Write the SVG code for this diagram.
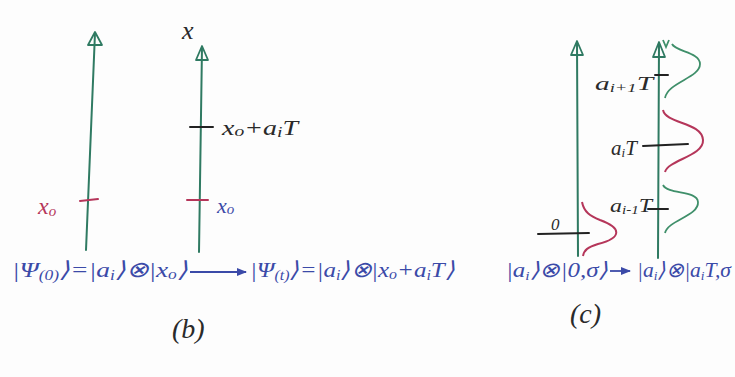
<svg xmlns="http://www.w3.org/2000/svg" width="735" height="377" viewBox="0 0 735 377">
<style>
.axis{stroke:#2f7a62;stroke-width:2;fill:none;stroke-linecap:round}
.ah{stroke:#2f7a62;stroke-width:1.8;fill:none;stroke-linejoin:round}
.tk{stroke:#222;stroke-width:2;stroke-linecap:round}
.tkr{stroke:#b5365a;stroke-width:2;stroke-linecap:round}
.gr{stroke:#3f8f6a;stroke-width:1.8;fill:none}
.rd{stroke:#b5365a;stroke-width:2;fill:none}
.t{font-family:"Liberation Serif",serif;font-style:italic}
.blue{fill:#3b4aa8}
.red{fill:#b5365a}
.blk{fill:#2a2a2a}
.conn{stroke:#3b4aa8;stroke-width:1.8;fill:none}
</style>
<defs>
<marker id="arr" markerWidth="10" markerHeight="8" refX="9" refY="4" orient="auto" markerUnits="userSpaceOnUse">
<path d="M0,0 L10,4 L0,8 Z" fill="#3b4aa8"/>
</marker>
</defs>
<rect width="735" height="377" fill="#fdfdfd"/>

<g id="axis-b-left">
<path class="axis" d="M86,250 L95,33"/>
<path class="ah" d="M88,45 L95,32 L102,45 Z"/>
<line class="tkr" x1="80" y1="201" x2="98" y2="199"/>
<text class="t red" x="38" y="214" font-size="24">x<tspan font-size="15" dy="2">o</tspan></text>
</g>

<g id="axis-b-right">
<path class="axis" d="M199,252 L202,47"/>
<path class="ah" d="M196,60 L202,46 L208,60 Z"/>
<text class="t blk" x="182" y="39" font-size="26">x</text>
<line class="tk" x1="190" y1="127" x2="213" y2="127"/>
<text class="t blk" x="222" y="135" font-size="20" textLength="76" lengthAdjust="spacingAndGlyphs">x<tspan font-size="14" dy="1">o</tspan><tspan dy="-1">+a</tspan><tspan font-size="14" dy="2">i</tspan><tspan dy="-2">T</tspan></text>
<line class="tkr" x1="187" y1="200" x2="208" y2="200"/>
<text class="t blue" x="217" y="213" font-size="22">x<tspan font-size="15" dy="1">o</tspan></text>
</g>

<g id="formula-b">
<text class="t blue" x="12" y="277" font-size="22" textLength="176" lengthAdjust="spacingAndGlyphs">|Ψ<tspan font-size="14" dy="3">(0)</tspan><tspan dy="-3">⟩=|a</tspan><tspan font-size="14" dy="3">i</tspan><tspan dy="-3">⟩⊗|x</tspan><tspan font-size="14" dy="2">o</tspan><tspan dy="-2">⟩</tspan></text>
<text class="t blue" x="250" y="277" font-size="22" textLength="205" lengthAdjust="spacingAndGlyphs">|Ψ<tspan font-size="14" dy="3">(t)</tspan><tspan dy="-3">⟩=|a</tspan><tspan font-size="14" dy="3">i</tspan><tspan dy="-3">⟩⊗|x</tspan><tspan font-size="14" dy="2">o</tspan><tspan dy="-2">+a</tspan><tspan font-size="14" dy="3">i</tspan><tspan dy="-3">T⟩</tspan></text>
<text class="t blk" x="172" y="338" font-size="28">(b)</text>
</g>

<g id="axis-c-left">
<path class="axis" d="M578,256 L577,42"/>
<path class="ah" d="M571,55 L577,41 L583,55 Z"/>
<line class="tk" x1="538" y1="234" x2="589" y2="233"/>
<text class="t blk" x="551" y="230" font-size="17">0</text>
<path class="rd" d="M582,202 C584,212 590,216 600,220 C622,228 622,238 598,244 C588,247 584,250 583,256"/>
</g>

<g id="axis-c-right">
<path class="axis" d="M658,258 L659,43"/>
<path class="ah" d="M653,57 L659,42 L665,57 Z"/>
<path class="gr" d="M663,40 L666,47 L669,40"/>
<line class="tk" x1="655" y1="75" x2="668" y2="75"/>
<text class="t blk" x="595" y="90" font-size="19" textLength="58" lengthAdjust="spacingAndGlyphs">a<tspan font-size="12" dy="2">i+1</tspan><tspan dy="-2">T</tspan></text>
<path class="gr" d="M672,44 C676,52 700,52 700,64 C700,78 668,82 665,98"/>
<line class="tk" x1="643" y1="146" x2="688" y2="144"/>
<text class="t blk" x="611" y="155" font-size="21">a<tspan font-size="13" dy="2">i</tspan><tspan dy="-2">T</tspan></text>
<path class="rd" d="M663,110 C666,124 702,122 703,140 C704,156 668,160 665,172"/>
<line class="tk" x1="648" y1="209" x2="668" y2="209"/>
<text class="t blk" x="610" y="212" font-size="19" textLength="42" lengthAdjust="spacingAndGlyphs">a<tspan font-size="12" dy="2">i-1</tspan><tspan dy="-2">T</tspan></text>
<path class="gr" d="M663,185 C668,195 697,190 698,202 C699,216 668,220 665,233"/>
</g>

<g id="formula-c">
<text class="t blue" x="506" y="277" font-size="21" textLength="102" lengthAdjust="spacingAndGlyphs">|a<tspan font-size="13" dy="3">i</tspan><tspan dy="-3">⟩⊗|0,σ⟩</tspan></text>
<text class="t blue" x="637" y="277" font-size="21" textLength="94" lengthAdjust="spacingAndGlyphs">|a<tspan font-size="13" dy="3">i</tspan><tspan dy="-3">⟩⊗|a</tspan><tspan font-size="13" dy="3">i</tspan><tspan dy="-3">T,σ</tspan></text>
<text class="t blk" x="570" y="323" font-size="28">(c)</text>
</g>

<g id="connectors">
<path class="conn" d="M190,272 L246,272" marker-end="url(#arr)"/>
<path class="conn" d="M610,271 L630,271" marker-end="url(#arr)"/>
</g>
</svg>
